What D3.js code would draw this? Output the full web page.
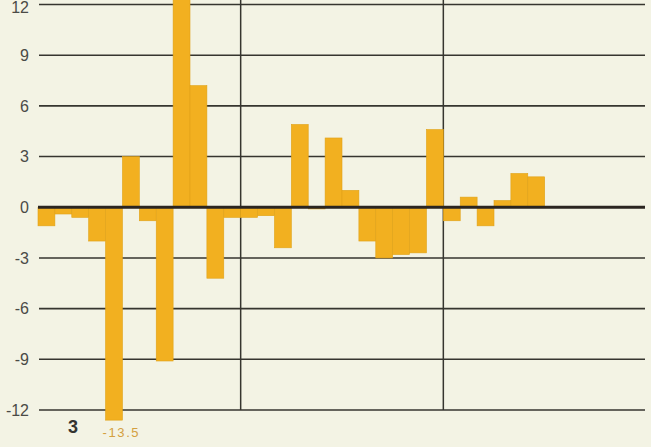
<!DOCTYPE html>
<html><head><meta charset="utf-8">
<script src="https://cdn.jsdelivr.net/npm/d3@7/dist/d3.min.js"></script>
<style>
html,body{margin:0;padding:0;background:#f3f3e4;}
svg{display:block;}
</style></head>
<body>
<svg id="chart" width="651" height="447"></svg>
<script>
// 36 period slots (three groups of 12); 30 observed values
const periods = ["1","2","3","4","5","6","7","8","9","10","11","12",
                 "13","14","15","16","17","18","19","20","21","22","23","24",
                 "25","26","27","28","29","30","31","32","33","34","35","36"];
const values = [-1.1,-0.4,-0.6,-2.0,-13.5,3.0,-0.8,-9.1,12.3,7.2,-4.2,-0.6,
                -0.6,-0.5,-2.4,4.9,-0.1,4.1,1.0,-2.0,-3.0,-2.8,-2.7,4.6,
                -0.8,0.6,-1.1,0.4,2.0,1.8];
const yTicks = [12,9,6,3,0,-3,-6,-9,-12];
const groupBreaks = ["13","25"];
const offScaleLabel = "-13.5";
const pageLabel = "3";

const svg = d3.select("#chart");
const x = d3.scaleBand().domain(periods).range([38, 646]).paddingInner(0).paddingOuter(0);
const y = d3.scaleLinear().domain([-12, 12]).range([410, 4.5]);

const clipMin = -12.6;

// gridlines
svg.append("g").selectAll("line").data(yTicks.filter(d => d !== 0)).join("line")
  .attr("x1", 39).attr("x2", 645)
  .attr("y1", d => y(d)).attr("y2", d => y(d))
  .attr("stroke", "#36352f").attr("stroke-width", 1.6);

// vertical group lines
svg.append("g").selectAll("line").data(groupBreaks).join("line")
  .attr("x1", d => x(d)).attr("x2", d => x(d))
  .attr("y1", 0).attr("y2", y(-12))
  .attr("stroke", "#36352f").attr("stroke-width", 1.5);

// bars
svg.append("g").selectAll("rect").data(values).join("rect")
  .attr("x", (d, i) => x(periods[i]))
  .attr("width", x.bandwidth())
  .attr("y", d => y(Math.max(0, Math.min(d, 12.4))))
  .attr("height", d => Math.abs(y(Math.max(clipMin, Math.min(d, 12.4))) - y(0)))
  .attr("fill", "#f2b020")
  .attr("stroke", "#e0a218").attr("stroke-width", 0.6);

// zero line
svg.append("line")
  .attr("x1", 38).attr("x2", 645)
  .attr("y1", y(0)).attr("y2", y(0))
  .attr("stroke", "#2a2520").attr("stroke-width", 3);

// y tick labels
svg.append("g").selectAll("text").data(yTicks).join("text")
  .attr("x", 29).attr("y", d => Math.max(y(d), 7))
  .attr("dy", "0.36em")
  .attr("text-anchor", "end")
  .attr("font-family", "Liberation Sans, Arial, sans-serif")
  .attr("font-size", 16)
  .attr("fill", "#4a4a46")
  .text(d => d);

// off-scale label
const offIdx = values.findIndex(v => v < -12);
svg.append("text")
  .attr("x", x(periods[offIdx]) - 3).attr("y", y(-12) + 27)
  .attr("font-family", "Liberation Sans, Arial, sans-serif")
  .attr("font-size", 13).attr("letter-spacing", 1.6)
  .attr("fill", "#d4a040")
  .text(offScaleLabel);

// page label
svg.append("text")
  .attr("x", 73).attr("y", y(-12) + 23)
  .attr("text-anchor", "middle")
  .attr("font-family", "Liberation Sans, Arial, sans-serif")
  .attr("font-size", 18).attr("font-weight", "bold")
  .attr("fill", "#333330")
  .text(pageLabel);
</script>
</body></html>
